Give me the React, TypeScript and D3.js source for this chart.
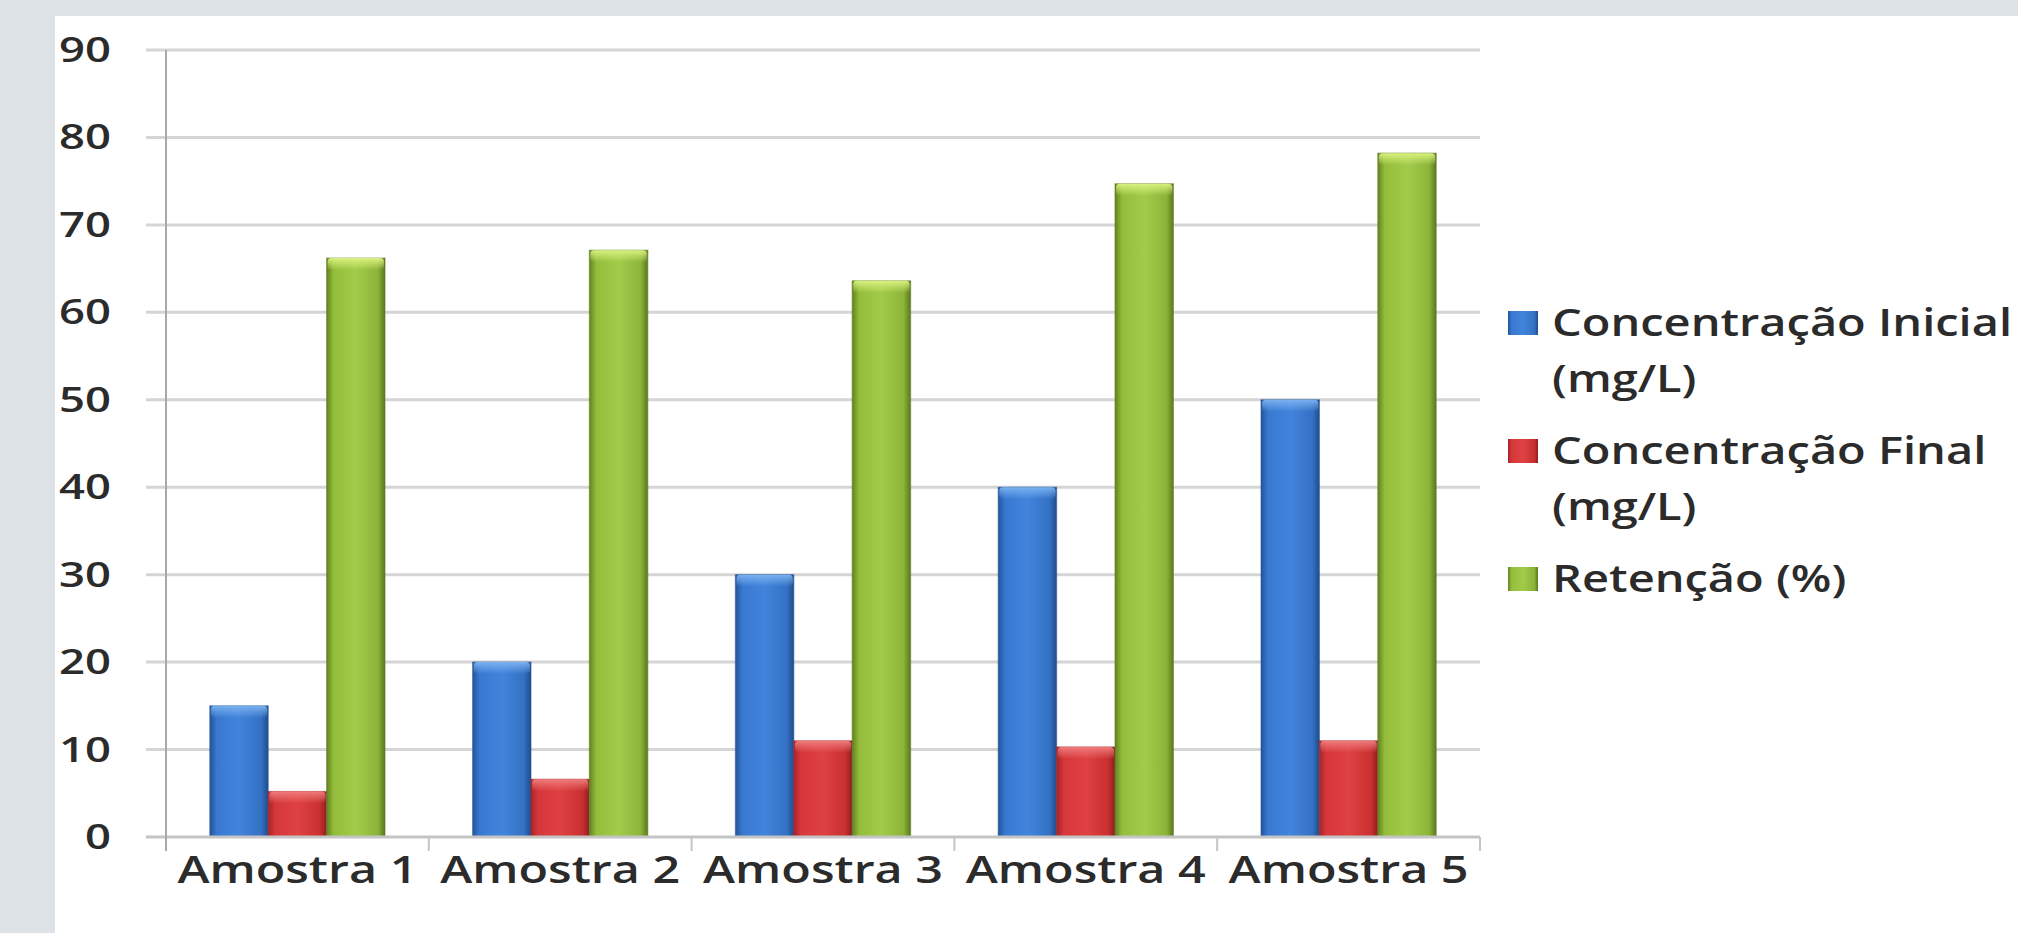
import React, { useEffect, useRef } from 'react';
import * as d3 from 'd3';

const categories = ['Amostra 1', 'Amostra 2', 'Amostra 3', 'Amostra 4', 'Amostra 5'];
const concInicial = [15, 20, 30, 40, 50];
const concFinal = [5.2, 6.6, 11, 10.3, 11];
const retencao = [66.2, 67.1, 63.6, 74.7, 78.2];
const seriesKeys = ['inicial', 'final', 'retencao'];
const legendLines = [['Concentração Inicial', '(mg/L)'], ['Concentração Final', '(mg/L)'], ['Retenção (%)']];
const yTicks = [0, 10, 20, 30, 40, 50, 60, 70, 80, 90];

const seriesValues = [concInicial, concFinal, retencao];

// gradient stops left -> right, plus the light cap on top of each bar
const barStyles = [
  { stops: ['#22559a', '#3878d0', '#4284dc', '#3471c4', '#1f4c8c'], cap: '#7db4f2', edge: '#28589a' },
  { stops: ['#a52428', '#d6373a', '#df4143', '#c9302f', '#8e1e22'], cap: '#f07f7f', edge: '#a3282a' },
  { stops: ['#63821f', '#94bd3c', '#a3cb4a', '#8cb439', '#5a781c'], cap: '#dcf482', edge: '#5f7c22' },
];

const W = 2018;
const H = 933;
const frame = '#dde2e7';
const textColor = '#2b2b2b';
const font = "'Open Sans', 'DejaVu Sans', sans-serif";

const App = () => {
  const ref = useRef<SVGSVGElement>(null);

  useEffect(() => {
    const svg = d3.select(ref.current);
    svg.selectAll('*').remove();

    const left = 166;
    const right = 1480;
    const x0 = d3.scaleBand().domain(categories).range([left, right]);
    const bw = x0.bandwidth();
    // excel style gap width 150%
    const x1 = d3.scaleBand().domain(seriesKeys).range([bw / 6, (bw * 5) / 6]);
    const y = d3.scaleLinear().domain([0, 90]).range([837, 50]);

    const defs = svg.append('defs');
    barStyles.forEach((s, i) => {
      const g = defs.append('linearGradient').attr('id', `bar-${i}`).attr('x1', 0).attr('x2', 1).attr('y1', 0).attr('y2', 0);
      const offs = [0, 0.12, 0.5, 0.88, 1];
      s.stops.forEach((c, k) => g.append('stop').attr('offset', offs[k]).attr('stop-color', c));
      const cg = defs.append('linearGradient').attr('id', `cap-${i}`).attr('x1', 0).attr('x2', 0).attr('y1', 0).attr('y2', 1);
      cg.append('stop').attr('offset', 0).attr('stop-color', s.cap).attr('stop-opacity', 0.95);
      cg.append('stop').attr('offset', 1).attr('stop-color', s.cap).attr('stop-opacity', 0);
    });

    svg.append('rect').attr('width', W).attr('height', H).attr('fill', '#ffffff');
    svg.append('rect').attr('width', W).attr('height', 16).attr('fill', frame);
    svg.append('rect').attr('width', 55).attr('height', H).attr('fill', frame);

    // gridlines (with the left tick stubs)
    svg.append('g')
      .selectAll('line')
      .data(yTicks.filter(t => t > 0))
      .enter().append('line')
      .attr('x1', left - 20)
      .attr('x2', right)
      .attr('y1', d => y(d))
      .attr('y2', d => y(d))
      .attr('stroke', '#d5d5d5')
      .attr('stroke-width', 3);

    // bars
    const groups = svg.append('g')
      .selectAll('g')
      .data(categories)
      .enter().append('g')
      .attr('transform', d => `translate(${x0(d)},0)`);

    seriesKeys.forEach((key, si) => {
      const bx = x1(key) as number;
      const w = x1.bandwidth();
      groups.append('rect')
        .attr('x', bx)
        .attr('width', w)
        .attr('y', (d, ci) => y(seriesValues[si][ci]))
        .attr('height', (d, ci) => y(0) - y(seriesValues[si][ci]))
        .attr('fill', `url(#bar-${si})`)
        .attr('stroke', barStyles[si].edge)
        .attr('stroke-opacity', 0.55)
        .attr('stroke-width', 1.2);
      groups.append('rect')
        .attr('x', bx + 1)
        .attr('width', w - 2)
        .attr('y', (d, ci) => y(seriesValues[si][ci]))
        .attr('height', 12)
        .attr('rx', 4)
        .attr('fill', `url(#cap-${si})`);
    });

    // axes
    svg.append('line')
      .attr('x1', left - 20).attr('x2', right)
      .attr('y1', y(0)).attr('y2', y(0))
      .attr('stroke', '#c4c4c4').attr('stroke-width', 3);
    svg.append('line')
      .attr('x1', left).attr('x2', left)
      .attr('y1', y(90)).attr('y2', y(0) + 14)
      .attr('stroke', '#a8a8a8').attr('stroke-width', 2);
    svg.append('g')
      .selectAll('line')
      .data(categories.map(c => x0(c) as number).concat([right]).slice(1))
      .enter().append('line')
      .attr('x1', d => d).attr('x2', d => d)
      .attr('y1', y(0)).attr('y2', y(0) + 14)
      .attr('stroke', '#c4c4c4').attr('stroke-width', 2);

    const stretch = (sel: any, sample: string, target: number) => {
      let base = 0;
      sel.each(function (this: SVGTextElement) {
        if (this.textContent === sample) base = this.getComputedTextLength();
      });
      const k = base > 0 ? target / base : 1;
      sel.each(function (this: SVGTextElement) {
        const len = this.getComputedTextLength();
        d3.select(this).attr('textLength', len * k).attr('lengthAdjust', 'spacingAndGlyphs');
      });
    };

    // y labels
    const yl = svg.append('g')
      .selectAll('text')
      .data(yTicks)
      .enter().append('text')
      .attr('x', 111)
      .attr('y', d => y(d) + 12)
      .attr('text-anchor', 'end')
      .attr('font-family', font)
      .attr('font-weight', 600)
      .attr('font-size', 35)
      .attr('fill', textColor)
      .text(d => String(d));
    stretch(yl, '90', 52);

    // x labels
    const xl = svg.append('g')
      .selectAll('text')
      .data(categories)
      .enter().append('text')
      .attr('x', d => (x0(d) as number) + bw / 2)
      .attr('y', 883)
      .attr('text-anchor', 'middle')
      .attr('font-family', font)
      .attr('font-weight', 600)
      .attr('font-size', 37)
      .attr('fill', textColor)
      .text(d => d);
    stretch(xl, 'Amostra 1', 240);

    // legend
    const lineH = 56;
    const gap = 16;
    let cy = 323;
    const legendTexts: SVGTextElement[] = [];
    const lg = svg.append('g');
    legendLines.forEach((lines, i) => {
      lg.append('rect')
        .attr('x', 1508).attr('y', cy - 12)
        .attr('width', 30).attr('height', 24)
        .attr('fill', `url(#bar-${i})`);
      lines.forEach((t, li) => {
        const node = lg.append('text')
          .attr('x', 1552)
          .attr('y', cy + li * lineH + 13)
          .attr('font-family', font)
          .attr('font-weight', 600)
          .attr('font-size', 37)
          .attr('fill', textColor)
          .text(t);
        legendTexts.push(node.node() as SVGTextElement);
      });
      cy += lines.length * lineH + gap;
    });
    stretch(d3.selectAll(legendTexts), 'Concentração Inicial', 460);
  }, []);

  return (
    <svg
      ref={ref}
      width={W}
      height={H}
      style={{ position: 'absolute', left: 0, top: 0, display: 'block' }}
    />
  );
};

export default App;
